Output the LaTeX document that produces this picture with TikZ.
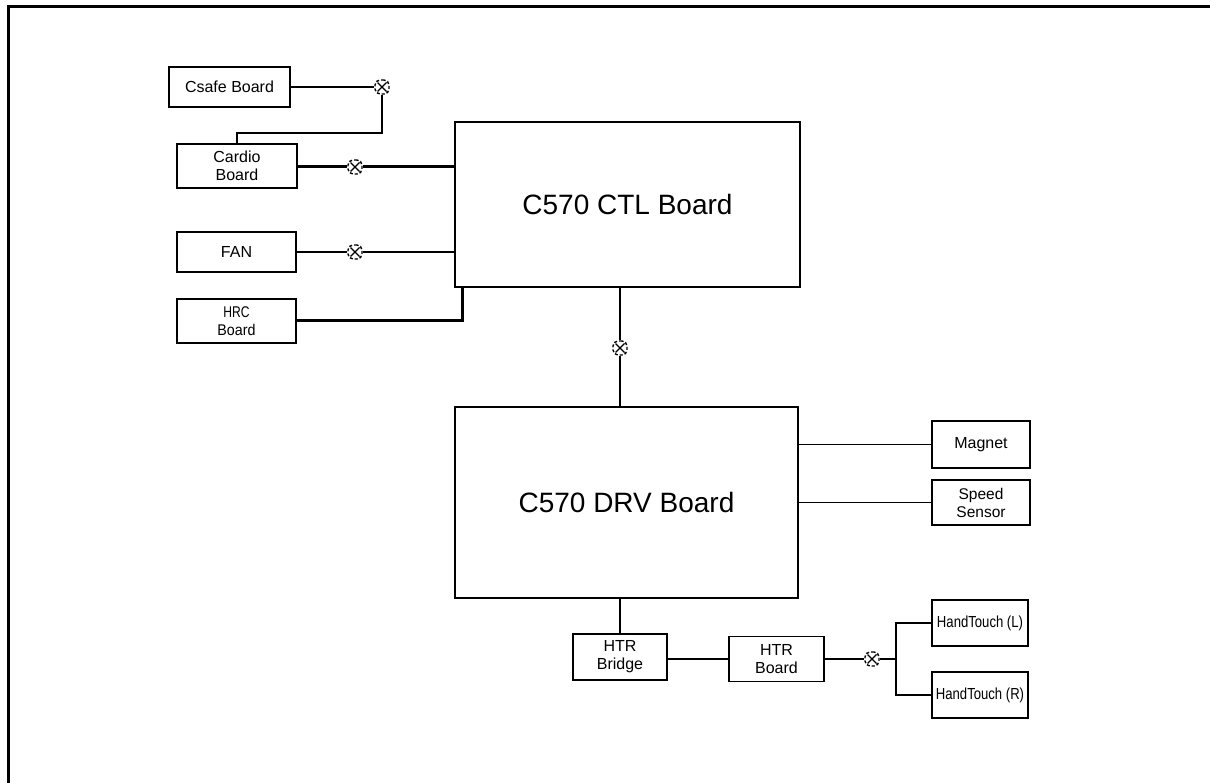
\documentclass[tikz,border=0pt]{standalone}
\usepackage{fontspec}
\setmainfont{Liberation Sans}
\usepackage{tikz}
\tikzset{
  boardnode/.style={rectangle, draw=black, line width=1.9pt, fill=white,
    inner sep=0pt, align=center, font=\fontsize{16}{18}\selectfont},
  mainnode/.style={boardnode, line width=1.6pt, font=\fontsize{28}{32}\selectfont},
  touchnode/.style={boardnode, minimum width=96pt, minimum height=46pt},
  plugnode/.style={rectangle, rounded corners=5pt, draw=black, densely dashed,
    line width=1.4pt, fill=white, minimum size=14pt, inner sep=0pt,
    path picture={\draw[solid, line width=1.1pt]
      ([shift={(-4.5pt,-4.5pt)}]path picture bounding box.center) --
      ([shift={(4.5pt,4.5pt)}]path picture bounding box.center)
      ([shift={(-4.5pt,4.5pt)}]path picture bounding box.center) --
      ([shift={(4.5pt,-4.5pt)}]path picture bounding box.center);}},
  wireedge/.style={draw=black, line width=1.8pt},
  thickedge/.style={draw=black, line width=3pt},
}
\newcommand{\narrowtext}[1]{\scalebox{0.82}[1]{#1}}
\begin{document}
\begin{tikzpicture}[x=1pt, y=-1pt]
  \useasboundingbox (0,0) rectangle (1210,783);
  % frame
  \draw[line width=3pt] (8,783) -- (8,7) -- (1210,7);
  % boards
  \node[boardnode, minimum width=121pt, minimum height=40pt] (csafe) at (229.5,87) {Csafe Board};
  \node[boardnode, minimum width=120pt, minimum height=44pt] (cardio) at (237,166) {Cardio\\Board};
  \node[boardnode, minimum width=119pt, minimum height=40pt] (fan) at (236.5,252) {FAN};
  \node[boardnode, minimum width=119pt, minimum height=44pt, font=\fontsize{15.5}{18}\selectfont] (hrc) at (236.5,321) {\scalebox{0.78}[1]{HRC}\\\scalebox{0.92}[1]{Board}};
  \node[mainnode, minimum width=345pt, minimum height=165pt] (ctl) at (627.5,204.5) {C570 CTL Board};
  \node[mainnode, minimum width=343pt, minimum height=191pt] (drv) at (626.5,502.5) {C570 DRV Board};
  \node[boardnode, minimum width=98pt, minimum height=47pt] (magnet) at (981,444.5) {Magnet};
  \node[boardnode, minimum width=98pt, minimum height=45pt, font=\fontsize{15.5}{18}\selectfont] (speed) at (981,502.5) {Speed\\Sensor};
  \node[boardnode, minimum width=94pt, minimum height=46pt] (bridge) at (620,657) {HTR\\Bridge};
  \node[boardnode, minimum width=95pt, minimum height=45pt] (htr) at (776.5,659) {HTR\\Board};
  \node[touchnode] (touchl) at (980,623) {\narrowtext{HandTouch (L)}};
  \node[touchnode] (touchr) at (980,695) {\narrowtext{HandTouch (R)}};
  % plugs
  \node[plugnode] (plugcs) at (382,87) {};
  \node[plugnode] (plugcd) at (355,167) {};
  \node[plugnode] (plugfan) at (355,252) {};
  \node[plugnode] (plugdrv) at (620,348) {};
  \node[plugnode] (plughtr) at (872,659) {};
  \coordinate (split) at (896,659);
  % wiring
  \draw[wireedge] (csafe.east) -- (plugcs.west);
  \draw[wireedge] (plugcs.south) -- ++(0,38) -| (cardio.north);
  \draw[thickedge] (plugcd -| cardio.east) -- (plugcd.west);
  \draw[thickedge] (plugcd.east) -- (plugcd -| ctl.west);
  \draw[wireedge] (fan.east) -- (plugfan.west);
  \draw[wireedge] (plugfan.east) -- (plugfan -| ctl.west);
  \draw[thickedge] (hrc.east) -| ([xshift=8pt]ctl.south west);
  \draw[wireedge] (plugdrv |- ctl.south) -- (plugdrv.north);
  \draw[wireedge] (plugdrv.south) -- (plugdrv |- drv.north);
  \draw[wireedge] (magnet.west -| drv.east) -- (magnet.west);
  \draw[wireedge] (speed.west -| drv.east) -- (speed.west);
  \draw[wireedge] (bridge.north |- drv.south) -- (bridge.north);
  \draw[wireedge] (bridge.east |- htr.west) -- (htr.west);
  \draw[wireedge] (htr.east) -- (plughtr.west);
  \draw[wireedge] (plughtr.east) -- (split);
  \draw[wireedge] (touchl.west) -| (split) |- (touchr.west);
\end{tikzpicture}
\end{document}
